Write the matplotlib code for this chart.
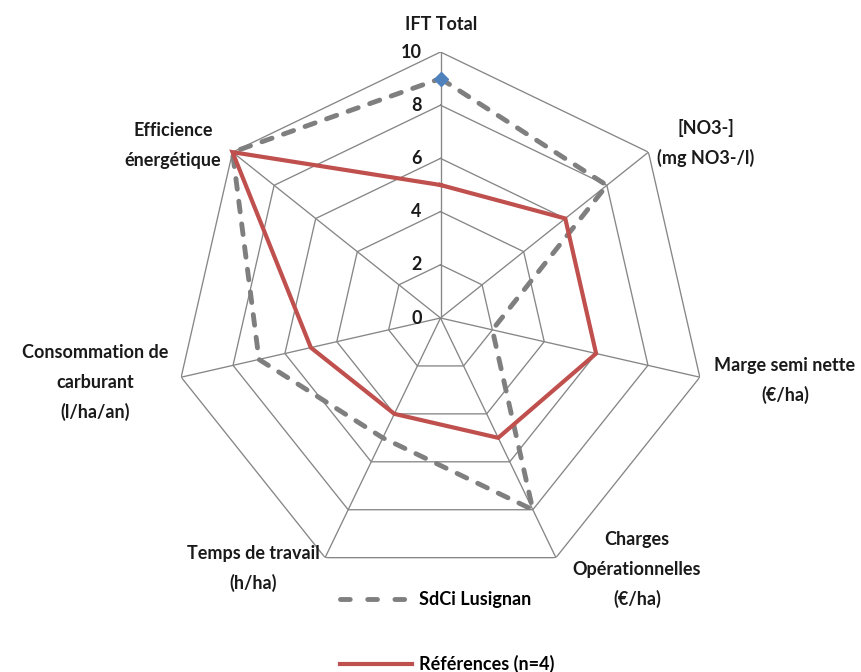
import matplotlib.pyplot as plt
import numpy as np
from matplotlib.lines import Line2D

plt.rcParams['font.family'] = ['Lato', 'DejaVu Sans']

categories = ['IFT Total', '[NO3-]\n(mg NO3-/l)', 'Marge semi nette\n(€/ha)',
              'Charges\nOpérationnelles\n(€/ha)', 'Temps de travail\n(h/ha)',
              'Consommation de\ncarburant\n(l/ha/an)', 'Efficience\nénergétique']
sdci = [9, 8, 2, 8, 5, 7, 10]
refs = [5, 6, 6, 5, 4, 5, 10]
ticks = [0, 2, 4, 6, 8, 10]

W, H = 861, 672
fig = plt.figure(figsize=(W / 100, H / 100), dpi=100)
# polar axes centred on (440, 318) px, radius 266 px
cx, cy, R = 440.5, 318, 266
ax = fig.add_axes([(cx - R) / W, (H - cy - R) / H, 2 * R / W, 2 * R / H], projection='polar')
ax.set_theta_zero_location('N')
ax.set_theta_direction(-1)
ax.set_ylim(0, 10)
ax.grid(False)
ax.spines['polar'].set_visible(False)
ax.set_xticks([])
ax.set_yticks([])
ax.patch.set_alpha(0)

n = len(categories)
ang = np.arange(n) * 2 * np.pi / n
ang_c = np.append(ang, ang[0])

gc = '#868686'
txt = '#1a1a1a'
fs = 13

# polygonal grid + spokes
for t in ticks[1:]:
    ax.plot(ang_c, [t] * (n + 1), color=gc, lw=0.95, zorder=1)
for a in ang:
    ax.plot([a, a], [0, 10], color=gc, lw=0.95, zorder=1)

for t in ticks:
    ax.annotate(str(t), (0, t), xytext=(-19, 0), textcoords='offset pixels',
                ha='right', va='center', fontsize=fs, fontweight='bold', color=txt)

ax.plot(ang_c, np.append(sdci, sdci[0]), color='#7f7f7f', lw=3.5,
        dashes=(2.2, 2.5), dash_capstyle='round', zorder=3, clip_on=False)
ax.plot(ang_c, np.append(refs, refs[0]), color='#c0504d', lw=3.0, zorder=4,
        solid_joinstyle='miter', clip_on=False)
ax.plot([ang[0]], [sdci[0]], marker='D', ms=7, color='#4f81bd', zorder=5, clip_on=False)

# category labels: centre x, first line y (px)
label_pos = [(441, 24), (706, 128), (785, 365), (637, 540), (253, 553), (95, 353), (173, 131)]
for lab, (x, y) in zip(categories, label_pos):
    for i, s in enumerate(lab.split('\n')):
        fig.text(x / W, 1 - (y + 29.5 * i) / H, s, ha='center', va='center',
                 fontsize=fs, fontweight='bold', color=txt)

handles = [Line2D([], [], color='#7f7f7f', lw=3.5, dashes=(2.0, 3.6), dash_capstyle='round'),
           Line2D([], [], color='#c0504d', lw=3.0)]
fig.legend(handles, ['SdCi Lusignan', 'Références (n=4)'], loc='upper left',
           bbox_to_anchor=(331 / W, 1 - 582 / H), frameon=False,
           handlelength=4.0, handletextpad=0.4, labelspacing=2.6, borderpad=0,
           prop={'weight': 'bold', 'size': fs})

fig.savefig('out.png', dpi=100)
